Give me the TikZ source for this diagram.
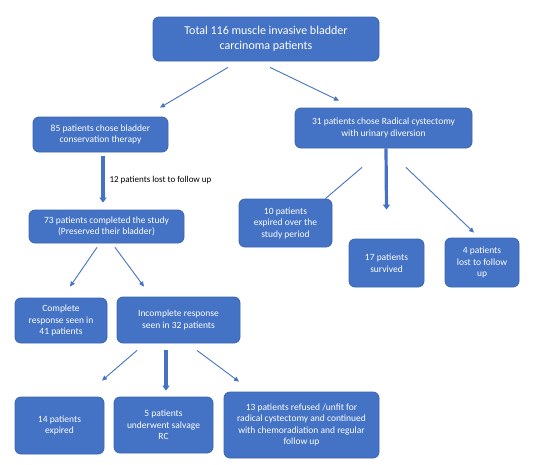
\documentclass[tikz,border=0pt]{standalone}
\usepackage{fontspec}
\setmainfont{Carlito}
\usepackage{xcolor,tikz}
\usetikzlibrary{arrows.meta,positioning}
\definecolor{boxblue}{HTML}{4472C4}
\definecolor{boxedge}{HTML}{3A65B0}
\begin{document}
\begin{tikzpicture}[x=1pt,y=-1pt,
  fbox/.style={draw=boxedge,line width=0.8pt,rounded corners=6pt,fill=boxblue,text=white,align=center,inner sep=1pt,font=\fontsize{9.5}{11.5}\selectfont},
  thinarr/.style={boxblue,line width=0.9pt,-{Triangle[length=5pt,width=4.5pt]}},
  thickarr/.style={boxblue,line width=3.2pt,-{Triangle[length=5pt,width=7pt]}}]
\useasboundingbox (0,0) rectangle (537,464);
\node[fbox,minimum width=226,minimum height=44,font=\fontsize{12}{15}\selectfont] (total) at (266,39) {Total 116 muscle invasive bladder\\carcinoma patients};
\node[fbox,minimum width=135,minimum height=35] (bcons) at (100.5,134.5) {85 patients chose bladder\\conservation therapy};
\node[fbox,minimum width=177,minimum height=40] (rc) at (383.5,128) {31 patients chose Radical cystectomy\\with urinary diversion};
\node[fbox,minimum width=155,minimum height=33] (done) at (106.5,226.5) {73 patients completed the study\\(Preserved their bladder)};
\node[anchor=west,font=\fontsize{9}{11}\selectfont] (lostlbl) at (106,180) {12 patients lost to follow up};
\node[fbox,minimum width=93,minimum height=48] (exp10) at (285.5,223) {10 patients\\expired over the\\study period};
\node[fbox,minimum width=75,minimum height=48] (surv17) at (386.5,263) {17 patients\\survived};
\node[fbox,minimum width=74,minimum height=49] (lost4) at (482,262.5) {4 patients\\lost to follow\\up};
\node[fbox,minimum width=92,minimum height=45] (compl) at (61,320.5) {Complete\\response seen in\\41 patients};
\node[fbox,minimum width=123,minimum height=46] (incompl) at (178.5,320) {Incomplete response\\seen in 32 patients};
\node[fbox,minimum width=89,minimum height=57] (exp14) at (59.5,425.5) {14 patients\\expired};
\node[fbox,minimum width=99,minimum height=56] (salv5) at (163.5,425) {5 patients\\underwent salvage\\RC};
\node[fbox,minimum width=155,minimum height=66] (refus13) at (301.5,425) {13 patients refused /unfit for\\radical cystectomy and continued\\with chemoradiation and regular\\follow up};
\draw[thinarr] ([xshift=-38pt,yshift=-6pt]total.south) -- ([xshift=59.5pt,yshift=9pt]bcons.north);
\draw[thinarr] ([xshift=4pt,yshift=-6pt]total.south) -- ([xshift=-44.5pt,yshift=7pt]rc.north);
\draw[thickarr] ([xshift=2.5pt,yshift=-4pt]bcons.south) -- ([xshift=-3.5pt,yshift=7pt]done.north);
\draw[thinarr] ([xshift=-9.5pt,yshift=-4pt]done.south) -- ([xshift=9pt,yshift=11pt]compl.north);
\draw[thinarr] ([xshift=8.5pt,yshift=-4pt]done.south) -- ([xshift=-34.5pt,yshift=10pt]incompl.north);
\draw[boxblue,line width=0.9pt] ([xshift=-21.5pt,yshift=-19pt]rc.south) -- ([xshift=-7pt]exp10.north east);
\draw[thickarr] ([xshift=2.5pt]rc.south) -- ([yshift=29pt]surv17.north);
\draw[thinarr] ([xshift=22.5pt,yshift=-19pt]rc.south) -- ([xshift=-8pt,yshift=5pt]lost4.north);
\draw[thinarr] ([xshift=-41.5pt,yshift=-7pt]incompl.south) -- ([xshift=42.5pt,yshift=16pt]exp14.north);
\draw[thickarr] ([xshift=-12.5pt,yshift=-7pt]incompl.south) -- ([xshift=2.5pt,yshift=6pt]salv5.north);
\draw[thinarr] ([xshift=18.5pt,yshift=-7pt]incompl.south) -- ([xshift=-62.5pt,yshift=10pt]refus13.north);
\end{tikzpicture}
\end{document}
